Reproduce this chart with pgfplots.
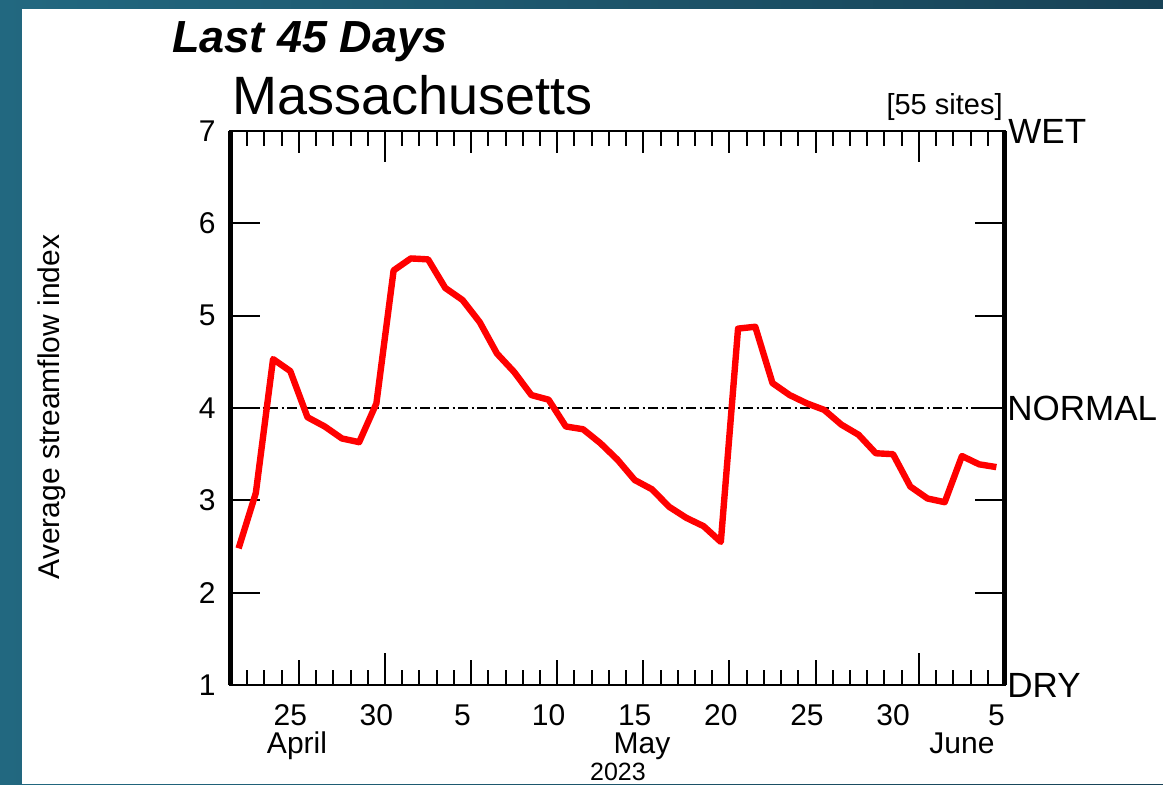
\documentclass[border=0pt]{standalone}
\usepackage{fontspec}
\setmainfont{Liberation Sans}
\usepackage{pgfplots}
\pgfplotsset{compat=1.18}
\definecolor{bgL}{RGB}{34,104,128}
\definecolor{bgR}{RGB}{24,66,86}
\definecolor{lnred}{RGB}{255,0,0}
\begin{document}
\begin{tikzpicture}[x=1pt,y=1pt]
\useasboundingbox (0,0) rectangle (581.5,392);
\shade[left color=bgL,right color=bgR] (0,0) rectangle (581.5,392);
\fill[white] (11,0) rectangle (581.5,387.5);
\begin{axis}[
  at={(115pt,49.5pt)}, anchor=south west,
  scale only axis, width=387.5pt, height=277pt,
  xmin=0, xmax=45, ymin=1, ymax=7,
  clip=false,
  axis line style={line width=1.4pt},
  /pgf/number format/assume math mode=true,
  xtick={3.5,8.5,13.5,18.5,23.5,28.5,33.5,38.5,44.5},
  xticklabels={25,30,5,10,15,20,25,30,5},
  major x tick style={draw=none},
  minor xtick={1,...,44},
  minor tick length=7.5pt,
  minor x tick style={draw=black, line width=1pt},
  ytick={1,...,7},
  major tick length=15pt,
  major y tick style={black, line width=1pt},
  xticklabel style={font=\fontsize{15}{18}\selectfont, anchor=base, inner sep=0pt, yshift=-20pt},
  yticklabel style={font=\fontsize{15}{18}\selectfont, anchor=east, inner sep=0pt, xshift=-7pt},
]
\addplot[black, line width=1pt, dash pattern=on 5pt off 1.75pt on 1pt off 1.75pt] coordinates {(0,4) (45,4)};
\addplot[lnred, line width=3.2pt, line join=round] coordinates {
(0.5,2.48) (1.5,3.08) (2.5,4.53) (3.5,4.40) (4.5,3.90) (5.5,3.80) (6.5,3.67) (7.5,3.63)
(8.5,4.05) (9.5,5.49) (10.5,5.62) (11.5,5.61) (12.5,5.30) (13.5,5.17) (14.5,4.93)
(15.5,4.59) (16.5,4.39) (17.5,4.14) (18.5,4.09) (19.5,3.80) (20.5,3.77) (21.5,3.62)
(22.5,3.44) (23.5,3.22) (24.5,3.12) (25.5,2.93) (26.5,2.81) (27.5,2.72) (28.5,2.55)
(29.5,4.86) (30.5,4.88) (31.5,4.27) (32.5,4.14) (33.5,4.05) (34.5,3.98) (35.5,3.82)
(36.5,3.71) (37.5,3.51) (38.5,3.50) (39.5,3.15) (40.5,3.02) (41.5,2.98) (42.5,3.48)
(43.5,3.39) (44.5,3.36)};
\pgfplotsinvokeforeach{4,14,19,24,29,34}{
  \draw[line width=1pt] (axis cs:#1,1) -- (axis cs:#1,1.271);
  \draw[line width=1pt] (axis cs:#1,7) -- (axis cs:#1,6.762);
}
\pgfplotsinvokeforeach{9,40}{
  \draw[line width=1pt] (axis cs:#1,1) -- (axis cs:#1,1.347);
  \draw[line width=1pt] (axis cs:#1,7) -- (axis cs:#1,6.664);
}
\draw[line width=2.5pt] (axis cs:0,1) -- (axis cs:0,7);
\draw[line width=2.5pt] (axis cs:45,1) -- (axis cs:45,7);
\end{axis}
\node[anchor=base west, inner sep=0pt, font=\fontsize{22.5}{27}\selectfont\bfseries\itshape] at (86,366) {Last 45 Days};
\node[anchor=base west, inner sep=0pt, font=\fontsize{27}{32}\selectfont] at (116,334.5) {Massachusetts};
\node[anchor=base east, inner sep=0pt, font=\fontsize{14.5}{17}\selectfont] at (501.5,334.5) {[55 sites]};
\node[anchor=west, inner sep=0pt, font=\fontsize{17.5}{21}\selectfont] at (504,326.5) {WET};
\node[anchor=west, inner sep=0pt, font=\fontsize{17.5}{21}\selectfont] at (503.5,188) {NORMAL};
\node[anchor=west, inner sep=0pt, font=\fontsize{17.5}{21}\selectfont] at (503.5,49.5) {DRY};
\node[rotate=90, inner sep=0pt, font=\fontsize{15}{18}\selectfont] at (26,188.5) {Average streamflow index};
\node[anchor=base, inner sep=0pt, font=\fontsize{15}{18}\selectfont] at (148.5,15.5) {April};
\node[anchor=base, inner sep=0pt, font=\fontsize{15}{18}\selectfont] at (321,15.5) {May};
\node[anchor=base, inner sep=0pt, font=\fontsize{15}{18}\selectfont] at (481,15.5) {June};
\node[anchor=base, inner sep=0pt, font=\fontsize{12.5}{15}\selectfont] at (309,2) {2023};
\end{tikzpicture}
\end{document}
